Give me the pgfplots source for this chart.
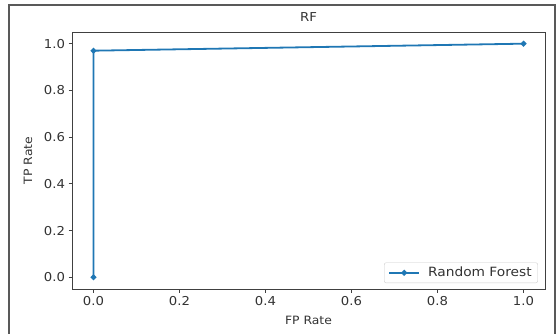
\documentclass[border=0pt]{standalone}
\usepackage{pgfplots}
\pgfplotsset{compat=1.18}
\usepackage{fontspec}
\setmainfont[FakeStretch=1.08]{DejaVu Sans}
\definecolor{mplblue}{HTML}{1F77B4}
\definecolor{ticktxt}{HTML}{333333}
\begin{document}
\begin{tikzpicture}[x=1bp,y=1bp]
\useasboundingbox (-72,-44) rectangle (488,289);
\draw[line width=1.5bp, color=black!65] (-63,-60) rectangle (483,284);
\begin{axis}[
  at={(0,0)}, anchor=south west,
  scale only axis, width=473bp, height=257bp,
  xmin=-0.05, xmax=1.05, ymin=-0.05, ymax=1.05,
  xtick={0,0.2,0.4,0.6,0.8,1.0},
  ytick={0,0.2,0.4,0.6,0.8,1.0},
  tick align=outside, xtick pos=bottom, ytick pos=left,
  major tick length=3.5bp,
  axis line style={black!75, line width=0.8bp},
  every tick/.style={black!75, line width=0.8bp},
  /pgf/number format/assume math mode=true,
  /pgf/number format/.cd, fixed, fixed zerofill, precision=1, /pgfplots/.cd,
  ticklabel style={font=\fontsize{12.3}{14}\selectfont, text=ticktxt},
  every axis title shift=0pt,
  xlabel={FP Rate}, ylabel={TP Rate}, title={RF},
  xlabel style={at={(axis description cs:0.5,-0.121)}, anchor=center, font=\fontsize{11.5}{13}\selectfont, text=ticktxt},
  ylabel style={at={(axis description cs:-0.093,0.5)}, anchor=center, font=\fontsize{11.5}{13}\selectfont, text=ticktxt},
  title style={at={(axis description cs:0.5,1.058)}, anchor=center, font=\fontsize{12.3}{14}\selectfont, text=ticktxt},
  legend style={at={(axis description cs:0.985,0.023)}, anchor=south east,
    draw=black!20, rounded corners=2bp, font=\fontsize{12.8}{14}\selectfont,
    text=ticktxt, inner xsep=4bp, inner ysep=2.5bp,
    nodes={inner sep=2bp}},
  legend cell align=left,
  legend image code/.code={
    \draw[#1, mark repeat=2, mark phase=2] plot coordinates {(0bp,0bp) (15bp,0bp) (30bp,0bp)};
  },
]
\addplot[color=mplblue, line width=1.8bp, mark=*, mark size=1.9bp] coordinates {
  (0,0) (0,0.97) (1,1)
};
\addlegendentry{\hspace{6bp}Random Forest\hspace{4bp}}
\end{axis}
\end{tikzpicture}
\end{document}
